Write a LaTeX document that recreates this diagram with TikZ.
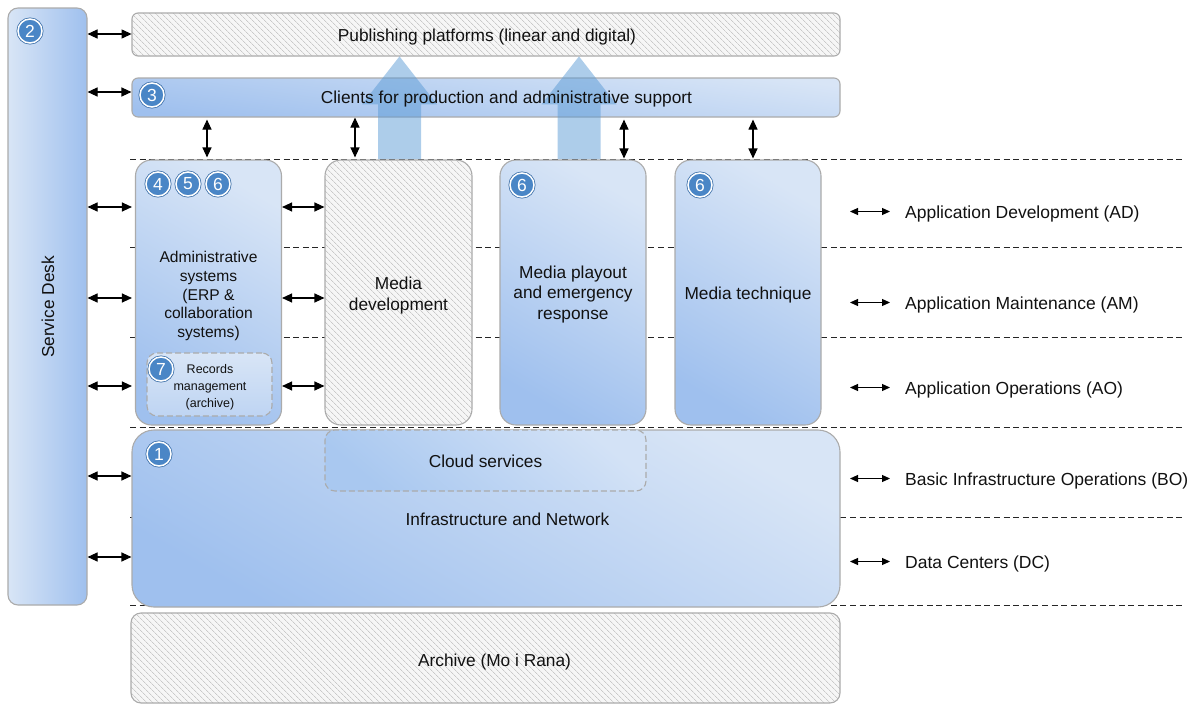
\documentclass[tikz,border=0pt]{standalone}
\usepackage{fontspec}
\setmainfont{Liberation Sans}
\usetikzlibrary{arrows.meta,patterns.meta,calc}

\definecolor{boxlight}{HTML}{D8E5F6}
\definecolor{boxdark}{HTML}{9FC0EE}
\definecolor{boxline}{HTML}{ABABAB}
\definecolor{cloudlight}{HTML}{D3E2F6}
\definecolor{clouddark}{HTML}{A9C8F0}
\definecolor{badgeblue}{HTML}{4A86C6}
\definecolor{badgeedge}{HTML}{3A6EA8}
\definecolor{flowblue}{HTML}{5B9BD5}
\definecolor{hatchbg}{HTML}{F6F6F6}
\definecolor{hatchline}{HTML}{C9C9C9}
\definecolor{inktext}{HTML}{111111}

\newcommand\txtmain{\fontsize{17.3}{20.8}\selectfont}
\newcommand\txtlayer{\fontsize{17.5}{21}\selectfont}
\newcommand\txtadmin{\fontsize{15.6}{18.7}\selectfont}
\newcommand\txtsmall{\fontsize{12.5}{17.2}\selectfont}
\newcommand\txtbadge{\fontsize{17.5}{17.5}\selectfont}

\tikzset{
  bluebox/.style={draw=boxline, line width=1.1pt, top color=boxlight,
    bottom color=boxdark, shading angle=#1, inner sep=0pt},
  bluebox/.default=-30,
  hatchbox/.style={draw=boxline, line width=1.1pt, preaction={fill=hatchbg},
    pattern={Lines[angle=-45,distance=4pt,line width=0.8pt]},
    pattern color=hatchline, inner sep=0pt},
  dashbox/.style={draw=boxline, line width=1.1pt, dash pattern=on 6pt off 3pt,
    top color=cloudlight, bottom color=clouddark, shading angle=-40,
    inner sep=0pt},
  plain/.style={inner sep=0pt, align=center, font=\txtmain, text=inktext},
  layer/.style={inner sep=0pt, anchor=west, font=\txtlayer, text=inktext},
  badge/.style={circle, preaction={draw=badgeedge, line width=3pt},
    fill=badgeblue, draw=white, line width=1.5pt, minimum size=24pt,
    inner sep=0pt, text=white, font=\txtbadge},
  dbl/.style={{Triangle[length=10pt,width=9pt]}-{Triangle[length=10pt,width=9pt]},
    line width=1.1pt, black},
  dblsmall/.style={{Triangle[length=8pt,width=7pt]}-{Triangle[length=8pt,width=7pt]},
    line width=1.1pt, black},
  guide/.style={dash pattern=on 6pt off 3.6pt, line width=0.9pt, black!85},
  flow/.style={fill=flowblue, fill opacity=0.5}
}

\begin{document}
\begin{tikzpicture}[x=1pt,y=-1pt]
\useasboundingbox (0,0) rectangle (1202,704);

% layer separators
\foreach \yy in {159,247,337,427,517,605}
  \draw[guide] (130,\yy) -- (1185,\yy);

% service desk column
\node[bluebox=90, rounded corners=10pt, minimum width=79pt, minimum height=597pt] (sd) at (47.5,306.5) {};
\node[plain, rotate=90] (sdtxt) at (48,307) {Service Desk};

% top bars
\node[hatchbox, rounded corners=6pt, minimum width=708pt, minimum height=43pt] (pub) at (486,34.5) {};
\node[plain] (pubtxt) at (487,37) {Publishing platforms (linear and digital)};
\node[bluebox=-8, rounded corners=6pt, minimum width=708pt, minimum height=39pt] (cli) at (486,97.5) {};

% application columns
\node[bluebox, rounded corners=16pt, minimum width=146pt, minimum height=265pt] (adm) at (208.5,292.5) {};
\node[plain, font=\txtadmin] (admtxt) at (208.5,296)
  {Administrative\\systems\\(ERP \&\\collaboration\\systems)};
\node[hatchbox, rounded corners=16pt, minimum width=147pt, minimum height=265pt] (mdev) at (398.5,292.5) {};
\node[plain] (mdevtxt) at (398.5,295.5) {Media\\development};
\node[bluebox, rounded corners=16pt, minimum width=146pt, minimum height=265pt] (play) at (573,292.5) {};
\node[plain] (playtxt) at (573,294.5) {Media playout\\and emergency\\response};
\node[bluebox, rounded corners=16pt, minimum width=146pt, minimum height=265pt] (tech) at (748,292.5) {};
\node[plain] (techtxt) at (748,295) {Media technique};

% records management inside the administrative column
\node[dashbox, rounded corners=10pt, minimum width=125pt, minimum height=63pt,
  top color=boxlight, bottom color=boxlight!55!boxdark] (rec) at (209.5,384.5) {};
\node[plain, font=\txtsmall] (rectxt) at (210,387.5) {Records\\management\\(archive)};

% infrastructure and cloud
\node[bluebox, rounded corners=22pt, minimum width=708pt, minimum height=177pt] (infra) at (486,518.5) {};
\node[plain] (infratxt) at (507.5,519) {Infrastructure and Network};
\node[dashbox, rounded corners=10pt, minimum width=321pt, minimum height=61pt] (cloud) at (485.5,460.5) {};
\node[plain] (cloudtxt) at (485.5,461) {Cloud services};

% archive
\node[hatchbox, rounded corners=10pt, minimum width=709pt, minimum height=90pt] (arch) at (485.5,658) {};
\node[plain] (archtxt) at (494.5,662) {Archive (Mo i Rana)};

% delivery flows up to the publishing platforms
\coordinate (up1foot) at (399.5,159);
\coordinate (up1tip) at (up1foot |- pub.south);
\coordinate (up2foot) at (579,159);
\coordinate (up2tip) at (up2foot |- pub.south);
\foreach \f/\t in {up1foot/up1tip, up2foot/up2tip}
  \fill[flow] ($(\f)+(-21.5,0)$) -- ($(\t)+(-21.5,48)$) -- ($(\t)+(-37.5,48)$) -- (\t)
    -- ($(\t)+(37.5,48)$) -- ($(\t)+(21.5,48)$) -- ($(\f)+(21.5,0)$) -- cycle;

\node[plain] (clitxt) at (506.5,99) {Clients for production and administrative support};

% numbered badges
\node[badge] (b2) at (30,31) {2};
\node[badge] (b3) at (152,95) {3};
\node[badge] (b4) at (158,184) {4};
\node[badge] (b5) at (188,184) {5};
\node[badge] (b6a) at (218,184) {6};
\node[badge] (b6b) at (522,185) {6};
\node[badge] (b6c) at (700,185) {6};
\node[badge] (b7) at (161,369) {7};
\node[badge] (b1) at (159,454) {1};

% row levels for the horizontal links
\coordinate (rPub) at (0,34);
\coordinate (rCli) at (0,92);
\coordinate (rAD) at (0,207);
\coordinate (rAM) at (0,298);
\coordinate (rAO) at (0,386);
\coordinate (rBO) at (0,476);
\coordinate (rDC) at (0,557);

% service desk links
\draw[dbl] (sd.east |- rPub) -- (pub.west |- rPub);
\draw[dbl] (sd.east |- rCli) -- (cli.west |- rCli);
\foreach \r in {rAD,rAM,rAO} {
  \draw[dbl, shorten >=3pt] (sd.east |- \r) -- (adm.west |- \r);
  \draw[dbl] (adm.east |- \r) -- (mdev.west |- \r);
}
\draw[dbl] (sd.east |- rBO) -- (infra.west |- rBO);
\draw[dbl] (sd.east |- rDC) -- (infra.west |- rDC);

% client links down to the applications
\coordinate (v1) at (207,0);
\coordinate (v2) at (355,0);
\coordinate (v3) at (624,0);
\coordinate (v4) at (753,0);
\draw[dbl, shorten <=2pt, shorten >=2pt] (v1 |- cli.south) -- (v1 |- adm.north);
\draw[dbl, shorten >=2pt] (v2 |- cli.south) -- (v2 |- mdev.north);
\draw[dbl, shorten <=2pt, shorten >=1pt] (v3 |- cli.south) -- (v3 |- play.north);
\draw[dbl, shorten <=2pt, shorten >=1pt] (v4 |- cli.south) -- (v4 |- tech.north);

% operating layers
\node[layer] (lAD) at (905,213.5) {Application Development (AD)};
\node[layer] (lAM) at (905,304.5) {Application Maintenance (AM)};
\node[layer] (lAO) at (905,389.5) {Application Operations (AO)};
\node[layer] (lBO) at (905,480.5) {Basic Infrastructure Operations (BO)};
\node[layer] (lDC) at (905,563.5) {Data Centers (DC)};
\foreach \l in {lAD,lAM,lAO,lBO,lDC}
  \draw[dblsmall] ($(\l.west)+(-55,-2)$) -- ($(\l.west)+(-15,-2)$);
\end{tikzpicture}
\end{document}
